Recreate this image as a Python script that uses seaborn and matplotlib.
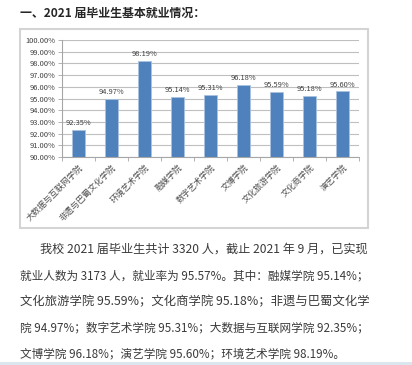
import matplotlib
matplotlib.use("Agg")
import matplotlib.pyplot as plt
import seaborn as sns
import pandas as pd
from matplotlib.patches import Rectangle
from matplotlib.ticker import FuncFormatter, FixedLocator

categories = ["大数据与互联网学院", "非遗与巴蜀文化学院", "环境艺术学院", "融媒学院",
              "数字艺术学院", "文博学院", "文化旅游学院", "文化商学院", "演艺学院"]
rates = [0.9235, 0.9497, 0.9819, 0.9514, 0.9531, 0.9618, 0.9559, 0.9518, 0.9560]
y_ticks = [0.90, 0.91, 0.92, 0.93, 0.94, 0.95, 0.96, 0.97, 0.98, 0.99, 1.00]

title_text = "一、2021 届毕业生基本就业情况："
para_lines = [
    "我校 2021 届毕业生共计 3320 人，截止 2021 年 9 月，已实现",
    "就业人数为 3173 人，就业率为 95.57%。其中：融媒学院 95.14%；",
    "文化旅游学院 95.59%；文化商学院 95.18%；非遗与巴蜀文化学",
    "院 94.97%；数字艺术学院 95.31%；大数据与互联网学院 92.35%；",
    "文博学院 96.18%；演艺学院 95.60%；环境艺术学院 98.19%。",
]

sns.set_style("white")
plt.rcParams['font.family'] = ['Noto Sans CJK SC', 'DejaVu Sans']

W, H = 412, 365
fig = plt.figure(figsize=(W / 100, H / 100), dpi=100)
fig.patch.set_facecolor("white")

# chart frame
fig.patches.append(Rectangle((20 / W, 1 - 228 / H), 348 / W, 199 / H, transform=fig.transFigure,
                             fill=False, edgecolor="#D4D4D4", linewidth=1.5, zorder=0))
# bottom light strip
fig.patches.append(Rectangle((0, 0), 1, 3.5 / H, transform=fig.transFigure,
                             facecolor="#DCE6EE", edgecolor="none", zorder=0))

ax = fig.add_axes([62 / W, 1 - 157 / H, 297 / W, 117 / H])
df = pd.DataFrame({"college": categories, "rate": rates})
sns.barplot(data=df, x="college", y="rate", color="#4F81BD", width=0.4, ax=ax,
            edgecolor="#A9C2E0", linewidth=0.6, saturation=1)

ax.set_ylim(0.90, 1.00)
ax.set_xlim(-0.5, len(categories) - 0.5)
ax.yaxis.set_major_locator(FixedLocator(y_ticks))
ax.yaxis.set_major_formatter(FuncFormatter(lambda v, p: f"{v * 100:.2f}%"))
ax.yaxis.grid(True, color="#BFBFBF", linewidth=0.8)
ax.set_axisbelow(True)
ax.set_xlabel("")
ax.set_ylabel("")
for s in ["top", "right"]:
    ax.spines[s].set_visible(False)
for s in ["left", "bottom"]:
    ax.spines[s].set_color("#A6A6A6")
    ax.spines[s].set_linewidth(0.8)
ax.tick_params(axis="y", labelsize=5.4, colors="#404040", length=3, width=0.6, pad=1.5,
               left=True, direction="out")
ax.tick_params(axis="y", color="#A6A6A6")
ax.set_xticks(range(len(categories)))
ax.set_xticklabels(categories, rotation=45, ha="right", rotation_mode="anchor",
                   fontsize=6.0, color="#505050")
ax.tick_params(axis="x", length=0, pad=4)
ax.set_xticks([i + 0.5 for i in range(-1, len(categories))], minor=True)
ax.tick_params(axis="x", which="minor", length=3, width=0.6, color="#A6A6A6", bottom=True)

for i, v in enumerate(rates):
    ax.text(i, v + 0.0025, f"{v * 100:.2f}%", ha="center", va="bottom",
            fontsize=5.4, color="#404040")

fig.text(20 / W, 1 - 13 / H, title_text, fontsize=8.6, fontweight="bold",
         color="#262626", va="center", ha="left")

# paragraph, each line fitted to the width it has in the reference
ys = [249, 276, 302, 328, 354]
xs = [40, 20, 20, 20, 20]
ends = [368, 368, 368, 368, 344]
renderer = fig.canvas.get_renderer()
base = 9.2
for t, x, y, e in zip(para_lines, xs, ys, ends):
    txt = fig.text(x / W, 1 - y / H, t, fontsize=base, color="#3A3A3A", va="center", ha="left")
    wpx = txt.get_window_extent(renderer=renderer).width
    txt.set_fontsize(base * (e - x) / wpx)

fig.savefig("out.png", dpi=100)
